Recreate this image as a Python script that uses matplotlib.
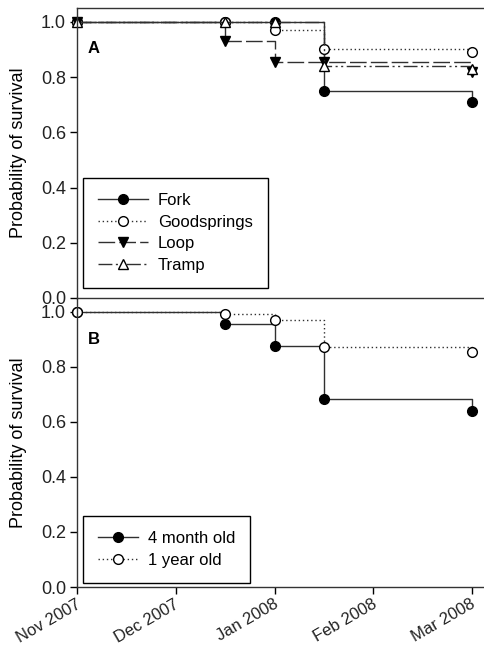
import matplotlib
matplotlib.use("Agg")
import matplotlib.pyplot as plt
from matplotlib.transforms import ScaledTranslation

plt.rcParams['font.family'] = ['Liberation Sans', 'DejaVu Sans']

# month index: 0=Nov 2007 ... 4=Mar 2008
tick_labels = ["Nov 2007", "Dec 2007", "Jan 2008", "Feb 2008", "Mar 2008"]
x_sites = [0, 1.5, 2, 2.5, 4]

fork = [1.0, 1.0, 1.0, 0.75, 0.71]
goodsprings = [1.0, 1.0, 0.97, 0.90, 0.89]
loop = [1.0, 0.93, 0.855, 0.855, 0.82]
tramp = [1.0, 1.0, 1.0, 0.84, 0.83]

x_age = [0, 1.5, 2, 2.5, 4]
four_month = [1.0, 0.957, 0.877, 0.684, 0.64]
one_year = [1.0, 0.993, 0.971, 0.872, 0.852]

fig = plt.figure(figsize=(4.84, 6.46), dpi=100)
W, H = 484, 646
left = 77 / W
width = 1 - left
axB = fig.add_axes([left, (H - 587) / H, width, (587 - 298) / H])
axA = fig.add_axes([left, (H - 298) / H, width, (298 - 8) / H])
axA.patch.set_alpha(0)
axB.patch.set_alpha(0)

lc = '#303030'
ms = 7
fs = 12
tfs = 13

def series(ax, x, y, ls, mk, fc, label):
    ax.plot(x, y, drawstyle='steps-post', color=lc, lw=1.0, linestyle=ls,
            marker=mk, markersize=ms, markerfacecolor=fc, markeredgecolor='black',
            markeredgewidth=1.0, label=label, clip_on=False, zorder=3)

series(axA, x_sites, fork, '-', 'o', 'black', 'Fork')
series(axA, x_sites, goodsprings, (0, (1, 2)), 'o', 'white', 'Goodsprings')
series(axA, x_sites, loop, (0, (12, 3)), 'v', 'black', 'Loop')
series(axA, x_sites, tramp, (0, (10, 2.5, 1.5, 2.5, 1.5, 2.5)), '^', 'white', 'Tramp')

series(axB, x_age, four_month, '-', 'o', 'black', '4 month old')
series(axB, x_age, one_year, (0, (1, 2)), 'o', 'white', '1 year old')

for ax in (axA, axB):
    ax.set_xlim(0, 4.12)
    ax.set_ylim(0, 1.05)
    ax.set_yticks([0, 0.2, 0.4, 0.6, 0.8, 1.0])
    ax.set_yticklabels(['0.0', '0.2', '0.4', '0.6', '0.8', '1.0'], fontsize=tfs, color='#222222')
    ax.spines['right'].set_visible(False)
    ax.set_ylabel('Probability of survival', fontsize=tfs, labelpad=10)
    ax.tick_params(axis='y', direction='out', length=5, width=1, pad=3)
    for s in ax.spines.values():
        s.set_linewidth(1.0)
        s.set_color('#333333')
        s.set_zorder(4)

axA.set_xticks([])
axB.spines['top'].set_visible(False)
axB.set_xticks(range(5))
axB.set_xticklabels(tick_labels, rotation=30, ha='right', fontsize=12, color='#222222')
axB.tick_params(axis='x', direction='out', length=5, width=1, pad=2)
offset = ScaledTranslation(6 / 100, 0, fig.dpi_scale_trans)
for lbl in axB.get_xticklabels():
    lbl.set_transform(lbl.get_transform() + offset)

axA.text(0.11, 0.902, 'A', fontsize=fs, fontweight='bold', va='center')
axB.text(0.11, 0.90, 'B', fontsize=fs, fontweight='bold', va='center')

common = dict(loc='lower left', fontsize=fs, frameon=True, fancybox=False,
              edgecolor='black', framealpha=1, numpoints=1,
              labelspacing=0.4, borderpad=0.9, handletextpad=0.6, borderaxespad=0)
lgA = axA.legend(bbox_to_anchor=(0.015, 0.035), handlelength=3.0, **common)
lgB = axB.legend(bbox_to_anchor=(0.015, 0.015), handlelength=2.4, **common)
for lg in (lgA, lgB):
    lg.get_frame().set_linewidth(1.0)
    lg.set_zorder(5)

fig.savefig('out.png', dpi=100)
